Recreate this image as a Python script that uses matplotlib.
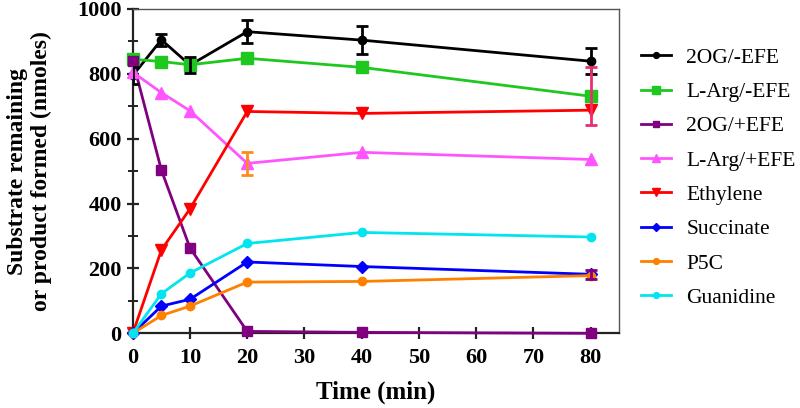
import numpy as np
import matplotlib.pyplot as plt
from matplotlib.ticker import MultipleLocator

plt.rcParams['font.family'] = ['Liberation Serif', 'DejaVu Serif']

# time points (min)
time = [0, 5, 10, 20, 40, 80]

# series values (nmoles)
og_minus = [795, 905, 827, 930, 904, 839]
arg_minus = [845, 838, 828, 848, 820, 731]
og_plus = [840, 503, 263, 6, 3, 0]
arg_plus = [805, 742, 686, 524, 558, 536]
ethylene = [0, 257, 384, 684, 678, 688]
succinate = [0, 84, 105, 220, 206, 182]
p5c = [0, 55, 84, 158, 160, 178]
guanidine = [0, 122, 186, 277, 311, 297]

# error bars
og_minus_err = [25, 18, 25, 35, 42, 40]
arg_minus_err = [0, 0, 0, 0, 0, 90]
arg_plus_err = [0, 0, 0, 35, 0, 0]
succinate_err = [0, 0, 0, 0, 0, 14]

series = [
    ("2OG/-EFE", og_minus, og_minus_err, "black", "o", 6, "black"),
    ("L-Arg/-EFE", arg_minus, arg_minus_err, "#1ec81e", "s", 8, "#e8306e"),
    ("2OG/+EFE", og_plus, None, "#800080", "s", 7, None),
    ("L-Arg/+EFE", arg_plus, arg_plus_err, "#ff55ff", "^", 8, "#ff8c1a"),
    ("Ethylene", ethylene, None, "#ff0000", "v", 9, None),
    ("Succinate", succinate, succinate_err, "#0000ff", "D", 6, "#800080"),
    ("P5C", p5c, None, "#ff8000", "o", 6, None),
    ("Guanidine", guanidine, None, "#00e5ee", "o", 6, None),
]

fig = plt.figure(figsize=(8, 4.08), dpi=100, facecolor="white")
ax = fig.add_axes([0.166, 0.183, 0.608, 0.795])

for name, vals, err, color, marker, ms, ecolor in series:
    ax.plot(time, vals, color=color, marker=marker, markersize=ms,
            linewidth=2, label=name, clip_on=False, zorder=3)
    if err is not None:
        t = [ti for ti, e in zip(time, err) if e > 0]
        v = [vi for vi, e in zip(vals, err) if e > 0]
        e = [ei for ei in err if ei > 0]
        ax.errorbar(t, v, yerr=e, fmt='none', ecolor=ecolor, elinewidth=2,
                    capsize=4, capthick=2, zorder=4)

ax.set_xlim(0, 85)
ax.set_ylim(0, 1000)
ax.set_xticks([0, 10, 20, 30, 40, 50, 60, 70, 80])
ax.yaxis.set_major_locator(MultipleLocator(200))
ax.yaxis.set_minor_locator(MultipleLocator(100))

for side in ['left', 'bottom']:
    ax.spines[side].set_linewidth(1.6)
    ax.spines[side].set_color('#222222')
for side in ['top', 'right']:
    ax.spines[side].set_linewidth(1.0)
    ax.spines[side].set_color('#555555')

ax.tick_params(axis='both', which='major', direction='inout', length=9, width=1.6,
               labelsize=16, color='#222222')
ax.tick_params(axis='x', which='major', pad=6)
ax.tick_params(axis='y', which='minor', direction='inout', length=7, width=1.4, color='#222222')
ax.tick_params(top=False, right=False)
for lbl in ax.get_xticklabels() + ax.get_yticklabels():
    lbl.set_fontweight('bold')

ax.set_xlabel("Time (min)", fontsize=18, fontweight='bold', labelpad=9)
ax.set_ylabel("Substrate remaining\nor product formed (nmoles)", fontsize=17,
              fontweight='bold', labelpad=18, linespacing=1.2)

ax.legend(loc='upper left', bbox_to_anchor=(1.005, 0.94), frameon=False,
          fontsize=15.5, handlelength=1.4, handletextpad=0.7,
          labelspacing=0.66, markerscale=0.7)

fig.savefig("out.png", dpi=100, facecolor="white")
